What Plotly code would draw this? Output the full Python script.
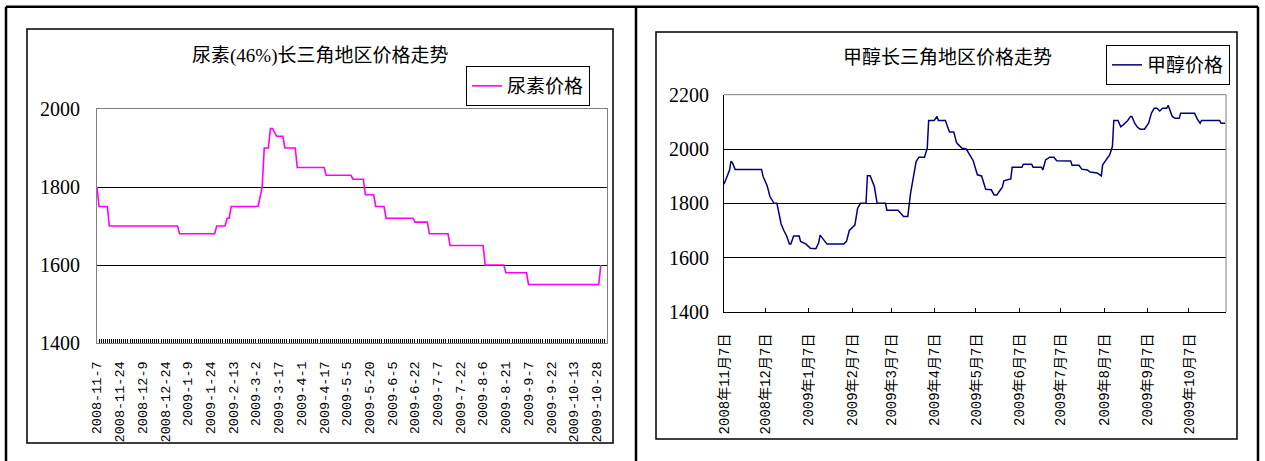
import plotly.graph_objects as go

W, H = 1265, 461

# ---------------- data: urea (left chart) ----------------
urea_title = "尿素(46%)长三角地区价格走势"
urea_name = "尿素价格"
urea_tick_labels = ["2008-11-7", "2008-11-24", "2008-12-9", "2008-12-24", "2009-1-9",
                    "2009-1-24", "2009-2-13", "2009-3-2", "2009-3-17", "2009-4-1",
                    "2009-4-17", "2009-5-5", "2009-5-20", "2009-6-5", "2009-6-22",
                    "2009-7-7", "2009-7-22", "2009-8-6", "2009-8-21", "2009-9-7",
                    "2009-9-22", "2009-10-13", "2009-10-28"]
urea_values = [
    1800, 1750, 1750, 1750, 1750, 1750, 1700, 1700, 1700, 1700, 1700, 1700, 1700, 1700, 1700, 1700, 1700, 1700, 1700, 1700,
    1700, 1700, 1700, 1700, 1700, 1700, 1700, 1700, 1700, 1700, 1700, 1700, 1700, 1700, 1700, 1700, 1700, 1700, 1700, 1700,
    1680, 1680, 1680, 1680, 1680, 1680, 1680, 1680, 1680, 1680, 1680, 1680, 1680, 1680, 1680, 1680, 1680, 1680, 1700, 1700,
    1700, 1700, 1700, 1720, 1720, 1750, 1750, 1750, 1750, 1750, 1750, 1750, 1750, 1750, 1750, 1750, 1750, 1750, 1750, 1775,
    1800, 1900, 1900, 1900, 1950, 1950, 1940, 1930, 1930, 1930, 1930, 1900, 1900, 1900, 1900, 1900, 1900, 1850, 1850, 1850,
    1850, 1850, 1850, 1850, 1850, 1850, 1850, 1850, 1850, 1850, 1850, 1830, 1830, 1830, 1830, 1830, 1830, 1830, 1830, 1830,
    1830, 1830, 1830, 1830, 1820, 1820, 1820, 1820, 1820, 1820, 1780, 1780, 1780, 1780, 1780, 1750, 1750, 1750, 1750, 1750,
    1720, 1720, 1720, 1720, 1720, 1720, 1720, 1720, 1720, 1720, 1720, 1720, 1720, 1720, 1710, 1710, 1710, 1710, 1710, 1710,
    1710, 1680, 1680, 1680, 1680, 1680, 1680, 1680, 1680, 1680, 1680, 1650, 1650, 1650, 1650, 1650, 1650, 1650, 1650, 1650,
    1650, 1650, 1650, 1650, 1650, 1650, 1650, 1650, 1600, 1600, 1600, 1600, 1600, 1600, 1600, 1600, 1600, 1600, 1580, 1580,
    1580, 1580, 1580, 1580, 1580, 1580, 1580, 1580, 1580, 1550, 1550, 1550, 1550, 1550, 1550, 1550, 1550, 1550, 1550, 1550,
    1550, 1550, 1550, 1550, 1550, 1550, 1550, 1550, 1550, 1550, 1550, 1550, 1550, 1550, 1550, 1550, 1550, 1550, 1550, 1550,
    1550, 1550, 1550, 1550, 1600,
]
urea_y_ticks = [1400, 1600, 1800, 2000]

# ---------------- data: methanol (right chart) ----------------
meth_title = "甲醇长三角地区价格走势"
meth_name = "甲醇价格"
meth_dates = [
    "2008-11-07", "2008-11-11", "2008-11-12", "2008-11-13", "2008-11-15", "2008-12-04", "2008-12-05", "2008-12-08",
    "2008-12-10", "2008-12-13", "2008-12-15", "2008-12-18", "2008-12-20", "2008-12-22", "2008-12-24", "2008-12-25",
    "2008-12-27", "2008-12-31", "2009-01-01", "2009-01-05", "2009-01-08", "2009-01-12", "2009-01-14", "2009-01-15",
    "2009-01-20", "2009-02-01", "2009-02-03", "2009-02-05", "2009-02-09", "2009-02-11", "2009-02-13", "2009-02-17",
    "2009-02-18", "2009-02-20", "2009-02-23", "2009-02-25", "2009-03-03", "2009-03-04", "2009-03-12", "2009-03-16",
    "2009-03-19", "2009-03-21", "2009-03-25", "2009-03-27", "2009-03-31", "2009-04-02", "2009-04-03", "2009-04-07",
    "2009-04-09", "2009-04-10", "2009-04-15", "2009-04-17", "2009-04-18", "2009-04-21", "2009-04-23", "2009-04-24",
    "2009-04-27", "2009-04-30", "2009-05-03", "2009-05-05", "2009-05-08", "2009-05-11", "2009-05-14", "2009-05-18",
    "2009-05-20", "2009-05-22", "2009-05-26", "2009-05-27", "2009-06-01", "2009-06-02", "2009-06-09", "2009-06-10",
    "2009-06-16", "2009-06-17", "2009-06-23", "2009-06-24", "2009-06-26", "2009-06-29", "2009-07-02", "2009-07-04",
    "2009-07-14", "2009-07-15", "2009-07-20", "2009-07-22", "2009-07-26", "2009-07-28", "2009-08-02", "2009-08-05",
    "2009-08-06", "2009-08-09", "2009-08-11", "2009-08-13", "2009-08-14", "2009-08-17", "2009-08-19", "2009-08-21",
    "2009-08-24", "2009-08-26", "2009-08-27", "2009-08-29", "2009-08-31", "2009-09-02", "2009-09-05", "2009-09-08",
    "2009-09-10", "2009-09-12", "2009-09-14", "2009-09-16", "2009-09-18", "2009-09-21", "2009-09-22", "2009-09-25",
    "2009-09-27", "2009-09-30", "2009-10-01", "2009-10-11", "2009-10-13", "2009-10-15", "2009-10-16", "2009-10-29",
    "2009-10-30", "2009-11-02",
]
meth_values = [
    1870, 1923, 1955, 1950, 1925, 1925, 1900, 1865,
    1825, 1800, 1800, 1725, 1700, 1680, 1650, 1650,
    1680, 1680, 1660, 1650, 1635, 1633, 1655, 1683,
    1650, 1650, 1660, 1700, 1720, 1782, 1800, 1800,
    1902, 1902, 1862, 1800, 1800, 1775, 1775, 1752,
    1752, 1837, 1954, 1970, 1970, 2003, 2105, 2105,
    2120, 2105, 2105, 2080, 2063, 2063, 2024, 2018,
    2003, 2000, 1975, 1957, 1905, 1901, 1852, 1850,
    1831, 1831, 1860, 1883, 1890, 1933, 1933, 1944,
    1944, 1933, 1933, 1923, 1960, 1970, 1970, 1957,
    1956, 1940, 1940, 1926, 1923, 1915, 1912, 1901,
    1942, 1966, 1978, 2009, 2105, 2105, 2082, 2090,
    2105, 2120, 2120, 2095, 2080, 2073, 2073, 2095,
    2132, 2150, 2150, 2140, 2150, 2150, 2161, 2120,
    2113, 2113, 2132, 2132, 2110, 2095, 2105, 2105,
    2095, 2095,
]
meth_tick_dates = ["2008-11-07", "2008-12-07", "2009-01-07", "2009-02-07", "2009-03-07", "2009-04-07",
                   "2009-05-07", "2009-06-07", "2009-07-07", "2009-08-07", "2009-09-07", "2009-10-07"]
meth_tick_labels = ["2008年11月7日", "2008年12月7日", "2009年1月7日", "2009年2月7日", "2009年3月7日",
                    "2009年4月7日", "2009年5月7日", "2009年6月7日", "2009年7月7日", "2009年8月7日",
                    "2009年9月7日", "2009年10月7日"]
meth_y_ticks = [1400, 1600, 1800, 2000, 2200]

# ---------------- figure ----------------
def px(x):
    return x / W

def py(y):
    return 1 - y / H

SERIF = "Liberation Serif, Noto Sans CJK SC"
MONO = "Liberation Mono, Noto Sans CJK SC"
CJK = "Noto Sans CJK SC, Liberation Serif"

fig = go.Figure()
fig.add_trace(go.Scatter(
    x=list(range(len(urea_values))), y=urea_values, mode="lines", name=urea_name,
    line=dict(color="#FF00FF", width=1.6), xaxis="x", yaxis="y", legend="legend",
))
fig.add_trace(go.Scatter(
    x=meth_dates, y=meth_values, mode="lines", name=meth_name,
    line=dict(color="#000080", width=1.5), xaxis="x2", yaxis="y2", legend="legend2",
))

fig.update_layout(
    width=W, height=H, autosize=False,
    margin=dict(l=0, r=0, t=0, b=0, pad=0, autoexpand=False),
    paper_bgcolor="white", plot_bgcolor="white",
    showlegend=True,
    xaxis=dict(
        domain=[px(97), px(607)], anchor="y", range=[0, 247], automargin=False,
        tickmode="array", tickvals=[i * 11 for i in range(len(urea_tick_labels))],
        ticktext=urea_tick_labels, tickangle=-90,
        ticks="inside", ticklen=4, tickcolor="black", tickwidth=1,
        minor=dict(tickmode="linear", tick0=0, dtick=1, ticks="inside", ticklen=4,
                   tickcolor="black", tickwidth=1.2, showgrid=False),
        showline=True, linecolor="#808080", linewidth=1, mirror=True,
        showgrid=False, zeroline=False,
        tickfont=dict(family=MONO, size=13.5, color="black"),
        ticklabelstandoff=12,
    ),
    yaxis=dict(
        domain=[py(343), py(109)], anchor="x", range=[1400, 2000], automargin=False,
        tickmode="array", tickvals=urea_y_ticks,
        showgrid=True, gridcolor="black", gridwidth=1,
        showline=True, linecolor="#808080", linewidth=1, mirror=True,
        ticks="", zeroline=False,
        tickfont=dict(family=SERIF, size=20, color="black"),
        ticklabelstandoff=12,
    ),
    xaxis2=dict(
        type="date", domain=[px(724), px(1226)], anchor="y2", automargin=False,
        range=["2008-11-07", "2009-11-02 14:00"],
        tickmode="array", tickvals=meth_tick_dates, ticktext=meth_tick_labels,
        tickangle=-90, ticks="inside", ticklen=4, tickcolor="black", tickwidth=1,
        showline=True, linecolor="black", linewidth=1, mirror=False,
        showgrid=False, zeroline=False,
        tickfont=dict(family=MONO, size=14, color="black"),
        ticklabelstandoff=15,
    ),
    yaxis2=dict(
        domain=[py(312), py(94.7)], anchor="x2", range=[1400, 2200], automargin=False,
        tickmode="array", tickvals=meth_y_ticks,
        showgrid=True, gridcolor="black", gridwidth=1,
        showline=True, linecolor="black", linewidth=1, mirror=False,
        ticks="inside", ticklen=6, tickcolor="black", zeroline=False,
        tickfont=dict(family=SERIF, size=20, color="black"),
        ticklabelstandoff=10,
    ),
    legend=dict(
        x=px(466), y=py(66), xanchor="left", yanchor="top",
        bordercolor="black", borderwidth=1, bgcolor="white",
        font=dict(family=CJK, size=19, color="black"), itemwidth=30,
    ),
    legend2=dict(
        x=px(1106), y=py(45), xanchor="left", yanchor="top",
        bordercolor="black", borderwidth=1, bgcolor="white",
        font=dict(family=CJK, size=19, color="black"), itemwidth=30,
    ),
)

# titles
fig.add_annotation(text=urea_title, xref="paper", yref="paper", x=px(320), y=py(56),
                   showarrow=False, xanchor="center", yanchor="middle",
                   font=dict(family=SERIF, size=19, color="black"))
fig.add_annotation(text=meth_title, xref="paper", yref="paper", x=px(947), y=py(57),
                   showarrow=False, xanchor="center", yanchor="middle",
                   font=dict(family=SERIF, size=19, color="black"))

shapes = []
# plot area gray top/right border for right chart
shapes.append(dict(type="line", xref="x2 domain", yref="y2 domain", x0=0, x1=1, y0=1, y1=1,
                   line=dict(color="#808080", width=1)))
shapes.append(dict(type="line", xref="x2 domain", yref="y2 domain", x0=1, x1=1, y0=0, y1=1,
                   line=dict(color="#808080", width=1)))
# chart frames
shapes.append(dict(type="rect", xref="paper", yref="paper", x0=px(27), x1=px(613), y0=py(443), y1=py(29),
                   line=dict(color="black", width=1.5)))
shapes.append(dict(type="rect", xref="paper", yref="paper", x0=px(656), x1=px(1237), y0=py(439), y1=py(32),
                   line=dict(color="black", width=1.5)))
# outer table lines
for (xa, ya, xb, yb) in [(6, 6.7, 1258, 6.7), (6, 6.7, 6, 461), (636, 6.7, 636, 461), (1258, 6.7, 1258, 461)]:
    shapes.append(dict(type="line", xref="paper", yref="paper", x0=px(xa), y0=py(ya), x1=px(xb), y1=py(yb),
                       line=dict(color="black", width=2.5)))
fig.update_layout(shapes=shapes)

fig.write_html(
    "out.html",
    config={"displayModeBar": False},
    post_script="document.body.style.margin='0px';document.body.style.overflow='hidden';",
)
